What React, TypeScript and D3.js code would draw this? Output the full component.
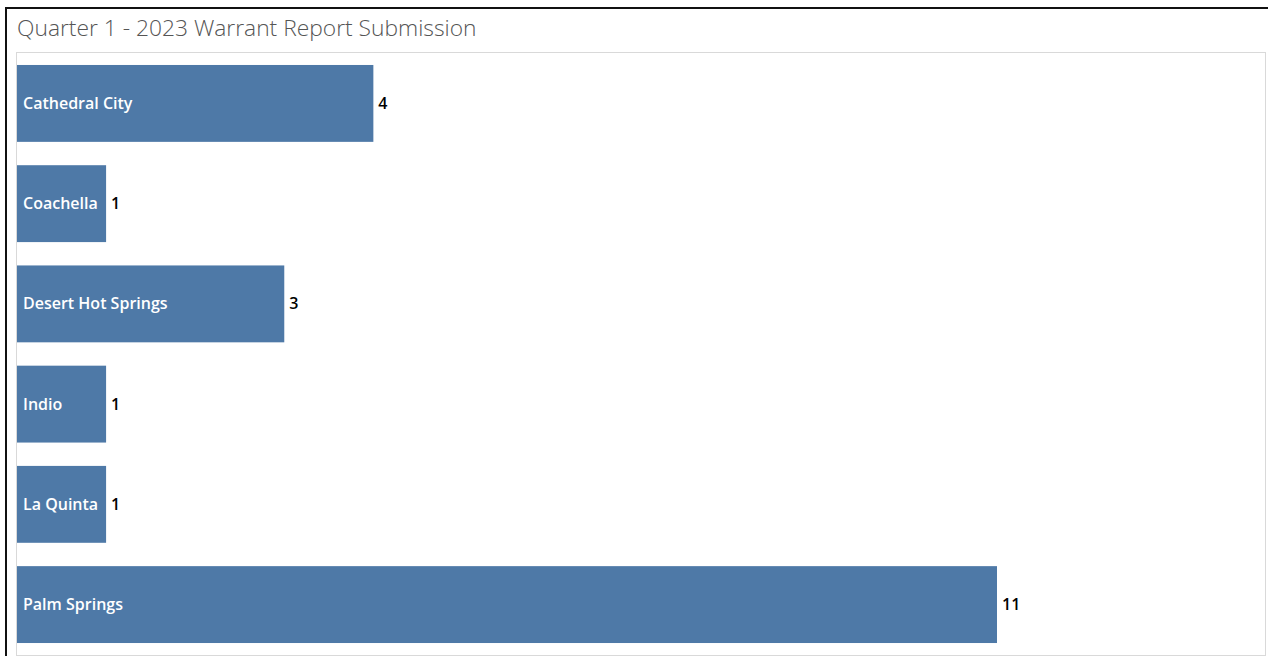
import React from "react";
import * as d3 from "d3";

const categories = ["Cathedral City", "Coachella", "Desert Hot Springs", "Indio", "La Quinta", "Palm Springs"];
const values = [4, 1, 3, 1, 1, 11];
const title = "Quarter 1 - 2023 Warrant Report Submission";

const W = 1268;
const H = 656;
const panel = { left: 16.5, top: 52.5, right: 1265.5, bottom: 655.5 };

export default function App() {
  const x = d3.scaleLinear().domain([0, 11]).range([17, 997]);
  const y = d3
    .scaleBand<string>()
    .domain(categories)
    .range([52.5, 655.5])
    .paddingInner(0.233)
    .paddingOuter(0.1245);
  const data = categories.map((c, i) => ({ c, v: values[i] }));
  return (
    <svg width={W} height={H} style={{ position: "absolute", left: 0, top: 0, background: "#fff" }}>
      <path d="M6,656 V8 H1268" fill="none" stroke="#111" strokeWidth={2} />
      <text x={17} y={36} fontFamily="'Open Sans', sans-serif" fontWeight={300} fontSize={22.8} fill="#555">
        {title}
      </text>
      <rect
        x={panel.left}
        y={panel.top}
        width={panel.right - panel.left}
        height={panel.bottom - panel.top}
        fill="#fff"
        stroke="#d9d9d9"
        strokeWidth={1}
      />
      {data.map((d) => {
        const y0 = y(d.c)!;
        const bh = y.bandwidth();
        return (
          <g key={d.c}>
            <rect x={x(0)} y={y0} width={x(d.v) - x(0)} height={bh} fill="#4e79a7" />
            <text
              x={x(0) + 6}
              y={y0 + bh / 2}
              dy="0.35em"
              fontFamily="'Open Sans', sans-serif"
              fontWeight={600}
              fontSize={16}
              fill="#fff"
            >
              {d.c}
            </text>
            <text
              x={x(d.v) + 5}
              y={y0 + bh / 2}
              dy="0.35em"
              fontFamily="'Open Sans', sans-serif"
              fontWeight={600}
              fontSize={16}
              fill="#000"
            >
              {d.v}
            </text>
          </g>
        );
      })}
    </svg>
  );
}
